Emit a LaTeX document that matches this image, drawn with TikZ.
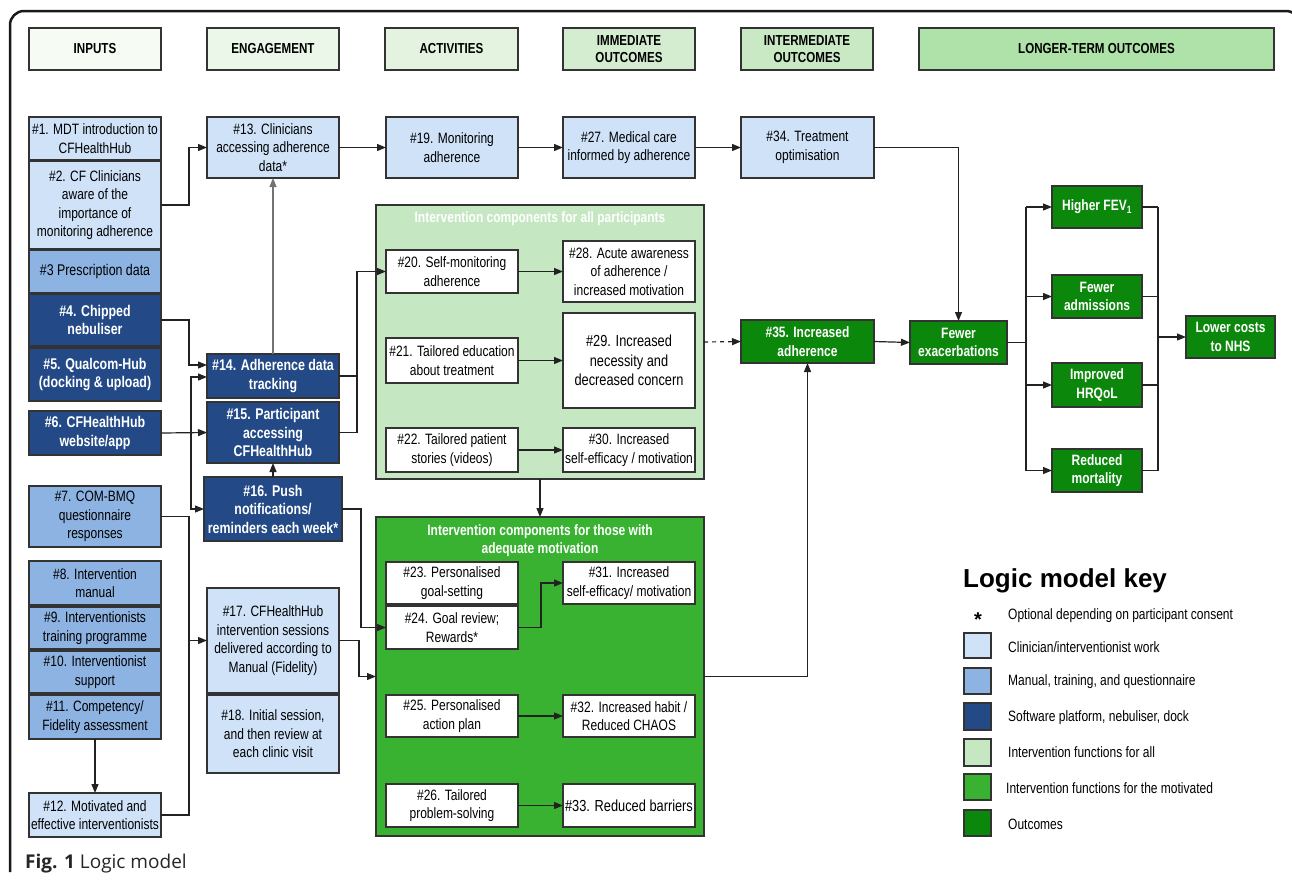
\documentclass[tikz,border=0pt]{standalone}
\usepackage{fontspec}
\setmainfont{Liberation Sans}[FakeStretch=0.8]
\newfontfamily\keyfont{Liberation Sans}
\newfontfamily\capfont{Open Sans}
\usetikzlibrary{arrows.meta}
\definecolor{lblue}{HTML}{CFE2F8}
\definecolor{mblue}{HTML}{8DB3E2}
\definecolor{dblue}{HTML}{234A86}
\definecolor{lgreen}{HTML}{C5E8C3}
\definecolor{bgreen}{HTML}{3AB231}
\definecolor{dgreen}{HTML}{0B870B}
\definecolor{hA}{HTML}{F6FCF4}
\definecolor{hB}{HTML}{EBF7E9}
\definecolor{hC}{HTML}{E3F3E0}
\definecolor{hD}{HTML}{D4EDD0}
\definecolor{hE}{HTML}{C9E9C4}
\definecolor{hF}{HTML}{AEE2A8}
\definecolor{edge}{HTML}{333333}
\definecolor{wire}{HTML}{222222}
\tikzset{
  base/.style={draw=edge, line width=1.1pt, inner sep=0pt, outer sep=0pt, align=center,
    font=\fontsize{15}{18.5}\selectfont},
  lb/.style={base, fill=lblue},
  mb/.style={base, fill=mblue},
  db/.style={base, fill=dblue, text=white, font=\fontsize{15.5}{18.5}\selectfont\bfseries},
  wb/.style={base, fill=white},
  dg/.style={base, fill=dgreen, text=white, font=\fontsize{15}{18.5}\selectfont\bfseries},
  hdr/.style={base, font=\fontsize{14.5}{17.5}\selectfont\bfseries},
  ptitle/.style={text=white, font=\fontsize{15}{18.5}\selectfont\bfseries, align=center, inner sep=0pt},
  keytxt/.style={anchor=west, inner sep=0pt, font=\fontsize{15}{18}\selectfont},
  arr/.style={line width=1.2pt, draw=wire, -{Triangle[length=9pt,width=7pt]}},
  ln/.style={line width=1.2pt, draw=wire},
}
\newcommand\bx[7]{\pgfmathsetmacro\bw{#4-#2}\pgfmathsetmacro\bh{#5-#3}%
  \node[#6, anchor=north west, minimum width=\bw pt, minimum height=\bh pt] (#1) at (#2,#3) {#7};}
\begin{document}
\begin{tikzpicture}[x=1pt,y=-1pt]
\useasboundingbox (0,0) rectangle (1292,879);
% frame
\draw[line width=2.5pt, draw=black!90, rounded corners=14pt] (10,872) -- (10,11) -- (1300,11) -- (1300,890);
% headers
\bx{hin}{29}{28}{161}{70}{hdr,fill=hA}{INPUTS}
\bx{hen}{207}{28}{339}{70}{hdr,fill=hB}{ENGAGEMENT}
\bx{hac}{385}{28}{518}{70}{hdr,fill=hC}{ACTIVITIES}
\bx{him}{563}{28}{695}{70}{hdr,fill=hD}{IMMEDIATE\\OUTCOMES}
\bx{hit}{741}{28}{873}{70}{hdr,fill=hE}{INTERMEDIATE\\OUTCOMES}
\bx{hlo}{919}{28}{1274}{70}{hdr,fill=hF}{LONGER-TERM OUTCOMES}
% inputs
\bx{n1}{29}{117}{161}{160}{lb}{\#1. MDT introduction to\\CFHealthHub}
\bx{n2}{29}{161}{161}{249}{lb}{\#2. CF Clinicians\\aware of the\\importance of\\monitoring adherence}
\bx{n3}{29}{250}{161}{293}{mb,font=\fontsize{15.5}{18.5}\selectfont}{\#3 Prescription data}
\bx{n4}{29}{294}{161}{346}{db}{\#4. Chipped\\nebuliser}
\bx{n5}{29}{348}{161}{401}{db}{\#5. Qualcom-Hub\\(docking \& upload)}
\bx{n6}{29}{411}{161}{455}{db}{\#6. CFHealthHub\\website/app}
\bx{n7}{29}{486}{161}{547}{mb}{\#7. COM-BMQ\\questionnaire\\responses}
\bx{n8}{29}{561}{161}{605}{mb}{\#8. Intervention\\manual}
\bx{n9}{29}{607}{161}{649}{mb}{\#9. Interventionists\\training programme}
\bx{n10}{29}{651}{161}{693}{mb}{\#10. Interventionist\\support}
\bx{n11}{29}{695}{161}{739}{mb}{\#11. Competency/\\Fidelity assessment}
\bx{n12}{29}{793}{161}{837}{lb}{\#12. Motivated and\\effective interventionists}
% engagement
\bx{n13}{207}{117}{339}{178}{lb}{\#13. Clinicians\\accessing adherence\\data*}
\bx{n14}{207}{354}{339}{398}{db}{\#14. Adherence data\\tracking}
\bx{n15}{207}{402}{339}{463}{db}{\#15. Participant\\accessing\\CFHealthHub}
\bx{n16}{204}{477}{342}{541}{db}{\#16. Push\\notifications/\\reminders each week*}
\bx{n17}{207}{588}{339}{693}{lb}{\#17. CFHealthHub\\intervention sessions\\delivered according to\\Manual (Fidelity)}
\bx{n18}{207}{695}{339}{773}{lb}{\#18. Initial session,\\and then review at\\each clinic visit}
% activities / outcomes top row
\bx{n19}{386}{117}{518}{178}{lb}{\#19. Monitoring\\adherence}
\bx{n27}{563}{117}{695}{178}{lb}{\#27. Medical care\\informed by adherence}
\bx{n34}{741}{117}{874}{178}{lb}{\#34. Treatment\\optimisation}
% panel 1
\bx{p1}{376}{205}{704}{479}{base,fill=lgreen}{}
\node[ptitle] (p1t) at (540,219) {Intervention components for all participants};
\bx{n20}{386}{250}{518}{293}{wb}{\#20. Self-monitoring\\adherence}
\bx{n28}{563}{241}{695}{302}{wb}{\#28. Acute awareness\\of adherence /\\increased motivation}
\bx{n21}{386}{338}{518}{383}{wb}{\#21. Tailored education\\about treatment}
\bx{n29}{563}{313}{695}{408}{wb,font=\fontsize{16}{19.5}\selectfont}{\#29. Increased\\necessity and\\decreased concern}
\bx{n22}{386}{428}{518}{472}{wb}{\#22. Tailored patient\\stories (videos)}
\bx{n30}{563}{428}{695}{472}{wb}{\#30. Increased\\self-efficacy / motivation}
% panel 2
\bx{p2}{376}{517}{704}{836}{base,fill=bgreen}{}
\node[ptitle] (p2t) at (540,540.5) {Intervention components for those with\\adequate motivation};
\bx{n23}{386}{562}{518}{604}{wb}{\#23. Personalised\\goal-setting}
\bx{n24}{386}{606}{518}{649}{wb}{\#24. Goal review;\\Rewards*}
\bx{n31}{563}{562}{695}{604}{wb}{\#31. Increased\\self-efficacy/ motivation}
\bx{n25}{386}{695}{518}{737}{wb}{\#25. Personalised\\action plan}
\bx{n32}{563}{695}{695}{737}{wb}{\#32. Increased habit /\\Reduced CHAOS}
\bx{n26}{386}{784}{518}{827}{wb}{\#26. Tailored\\problem-solving}
\bx{n33}{563}{784}{695}{827}{wb,font=\fontsize{16}{19}\selectfont}{\#33. Reduced barriers}
% outcomes
\bx{n35}{741}{320}{874}{363}{dg}{\#35. Increased\\adherence}
\bx{fe}{910}{321}{1007}{364}{dg}{Fewer\\exacerbations}
\bx{fev}{1052}{186}{1142}{228}{dg}{Higher FEV\textsubscript{1}}
\bx{adm}{1052}{275}{1142}{318}{dg}{Fewer\\admissions}
\bx{hrq}{1052}{363}{1142}{407}{dg}{Improved\\HRQoL}
\bx{mor}{1052}{449}{1142}{492}{dg}{Reduced\\mortality}
\bx{lc}{1186}{316}{1275}{358}{dg}{Lower costs\\to NHS}
% connectors: inputs -> engagement
\draw[arr] (n2.east) -- (189,205) |- (n13.west);
\draw[arr, draw=black!55] (n14.north) -- (n13.south);
\draw[arr] (n4.east) -- (189,320) |- (n14.west |- 0,365);
\draw[arr] (n6.east) -- (n15.west);
\draw[arr] (191,433) |- (n14.west |- 0,377);
\draw[arr] (191,433) |- (n16.west);
\draw[arr] (n16.north) -- (n15.south);
\draw[ln] (n14.east) -- (357,376);
\draw[arr] (n15.east) -- (357,432.5) |- (n20.west);
\draw[arr] (n16.east) -- (361,509) |- (n24.west);
\draw[ln] (n7.east) -- (189,516.5) -- (189,815) -- (n12.east);
\draw[arr] (189,640.5) -- (n17.west);
\draw[arr] (n11.south) -- (n12.north);
\draw[arr] (n17.east) -- (359,640.5) |- (p2.west);
% top row
\draw[arr] (n13.east) -- (n19.west);
\draw[arr] (n19.east) -- (n27.west);
\draw[arr] (n27.east) -- (n34.west);
% panels
\draw[arr] (n20.east) -- (n28.west);
\draw[arr] (n21.east) -- (n29.west);
\draw[arr] (n22.east) -- (n30.west);
\draw[arr] (p1.south) -- (p2.north);
\draw[arr] (n24.east) -- (541,627.5) |- (n31.west);
\draw[arr] (n25.east) -- (n32.west);
\draw[arr] (n26.east) -- (n33.west);
% outcomes
\draw[arr, dash pattern=on 4pt off 4pt] (p1.east) -- (n35.west);
\draw[arr] (p2.east) -| (n35.south);
\draw[arr] (n35.east) -- (fe.west);
\draw[arr] (n34.east) -| (fe.north);
\draw[ln] (fe.east) -- (1026,342.5);
\draw[ln] (1026,207) -- (1026,470.5);
\draw[ln] (1158,207) -- (1158,470.5);
\foreach \o in {fev,adm,hrq,mor}{
  \draw[arr] (\o.west -| 1026,0) -- (\o.west);
  \draw[ln] (\o.east) -- (\o.east -| 1158,0);
}
\draw[arr] (lc.west -| 1158,0) -- (lc.west);
% key
\node[anchor=base west, inner sep=0pt, font=\keyfont\fontsize{26}{30}\selectfont\bfseries] (ktitle) at (963,587) {Logic model key};
\node[inner sep=0pt, font=\keyfont\fontsize{20}{20}\selectfont\bfseries] (kstar) at (978,620) {*};
\node[keytxt] (kt0) at (1008,616) {Optional depending on participant consent};
\bx{k1}{964}{633}{991}{658}{lb}{}
\bx{k2}{964}{668}{991}{694}{mb}{}
\bx{k3}{964}{703}{991}{730}{db}{}
\bx{k4}{964}{739}{991}{766}{base,fill=lgreen}{}
\bx{k5}{964}{774}{991}{800}{base,fill=bgreen}{}
\bx{k6}{964}{810}{991}{836}{base,fill=dgreen}{}
\node[keytxt] (kt1) at (1008,647) {Clinician/interventionist work};
\node[keytxt] (kt2) at (1008,682) {Manual, training, and questionnaire};
\node[keytxt] (kt3) at (1008,718) {Software platform, nebuliser, dock};
\node[keytxt] (kt4) at (1008,752) {Intervention functions for all};
\node[keytxt] (kt5) at (1006,788) {Intervention functions for the motivated};
\node[keytxt] (kt6) at (1008,824) {Outcomes};
% caption
\node[anchor=base west, inner sep=0pt, text=black!85, font=\capfont\fontsize{19}{22}\selectfont] (cap) at (25,868) {\textbf{Fig. 1} Logic model};
\end{tikzpicture}
\end{document}
